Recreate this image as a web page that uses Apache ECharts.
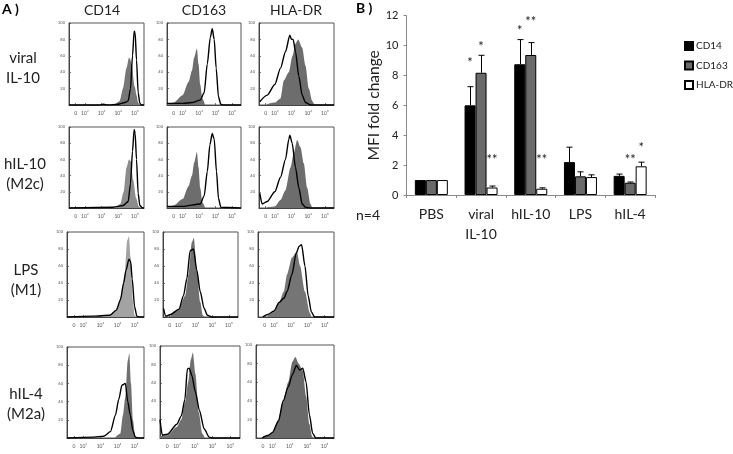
<!DOCTYPE html>
<html><head><meta charset="utf-8">
<style>html,body{margin:0;padding:0;background:#fff}#c{width:733px;height:454px;filter:blur(0.3px)}</style>
<script src="https://cdn.jsdelivr.net/npm/echarts@6/dist/echarts.min.js"></script>
</head><body><div id="c"></div>
<script>
// ---------- Panel B values ----------
const barCategories = ['PBS', 'viral\nIL-10', 'hIL-10', 'LPS', 'hIL-4'];
const cd14Values  = [1, 6.0, 8.75, 2.2, 1.28];
const cd163Values = [1, 8.18, 9.37, 1.25, 0.82];
const hladrValues = [1, 0.5, 0.42, 1.2, 1.92];
const cd14Upper   = [null, 7.25, 10.4, 3.2, 1.4];
const cd163Upper  = [null, 9.35, 10.2, 1.55, 0.87];
const hladrUpper  = [null, 0.6, 0.48, 1.35, 2.2];
// [category, series, height, mark]
const significance = [[1,0,8.97,'*'],[1,1,10.04,'*'],[1,2,2.52,'**'],[2,0,11.15,'*'],[2,1,11.7,'**'],[2,2,2.52,'**'],[4,1,2.52,'**'],[4,2,3.3,'*']];
const barTicks = [0,2,4,6,8,10,12];

// ---------- Panel A histograms: [log10 fluorescence, % of max] ----------
const xTickValues = [1.45, 2, 3, 4, 5];
const xTickLabels = ['0', '10²', '10³', '10⁴', '10⁵'];
const viralCD14Fill = [[3.79,0],[4.09,5],[4.29,20],[4.5,45],[4.65,58],[4.72,56],[4.8,50],[5,22],[5.1,12],[5.2,3],[5.3,0]];
const viralCD14Line = [[1.05,0],[2.9,0],[3.1,1],[3.4,0],[4,1],[4.4,3],[4.6,5],[4.74,20],[4.86,60],[4.96,90],[5.02,88],[5.1,55],[5.2,15],[5.3,2],[5.4,0],[5.55,0]];
const viralCD163Fill = [[1.05,0],[1.45,3],[2,12],[2.36,28],[2.57,42],[2.7,58],[2.87,69],[2.97,50],[3.07,25],[3.2,8],[3.37,0]];
const viralCD163Line = [[1.05,2],[2,2],[2.57,3],[3.07,6],[3.31,15],[3.5,50],[3.68,82],[3.8,93],[3.92,80],[4.04,45],[4.18,10],[4.32,1],[4.5,0],[5.55,0]];
const viralHLAFill = [[1.54,1],[2,3],[2.34,8],[2.54,30],[2.84,40],[3.06,60],[3.24,75],[3.4,80],[3.64,70],[3.84,48],[4.04,20],[4.24,5],[4.38,0]];
const viralHLALine = [[1.1,4],[1.54,12],[2,25],[2.34,45],[2.64,65],[2.9,85],[3.0,80],[3.1,80],[3.24,65],[3.44,35],[3.64,12],[3.84,3],[4.14,0],[5.55,0]];
const hIL10CD14Fill = [[3.89,1],[4.13,5],[4.33,20],[4.5,50],[4.65,60],[4.75,58],[4.9,35],[5.08,12],[5.24,2],[5.3,0]];
const hIL10CD14Line = [[1.05,0],[3.69,1],[4.3,3],[4.6,8],[4.74,30],[4.86,70],[4.96,97],[5.02,92],[5.1,60],[5.2,18],[5.3,3],[5.46,0],[5.55,0]];
const hIL10CD163Fill = [[1.05,0],[1.45,3],[2,11],[2.36,27],[2.57,40],[2.7,56],[2.87,69],[2.97,50],[3.07,25],[3.2,7],[3.37,0]];
const hIL10CD163Line = [[1.05,2],[2,2],[3.07,5],[3.31,15],[3.5,45],[3.66,78],[3.8,92],[3.92,85],[4.06,45],[4.18,12],[4.32,1],[5.55,0]];
const hIL10HLAFill = [[1.54,1],[2,2],[2.34,10],[2.64,22],[2.94,50],[3.14,68],[3.34,84],[3.54,75],[3.74,55],[3.94,25],[4.14,5],[4.24,0]];
const hIL10HLALine = [[1.1,18],[1.24,5],[1.54,8],[2,20],[2.34,38],[2.64,60],[2.84,85],[2.9,90],[3.04,80],[3.24,50],[3.44,25],[3.64,5],[3.84,1],[4.1,0],[5.55,0]];
const lpsCD14Fill = [[3.55,2],[3.93,7],[4.22,25],[4.42,50],[4.57,90],[4.67,95],[4.77,70],[4.9,20],[5,2],[5.06,0]];
const lpsCD14Line = [[1.05,0],[2.58,1],[3.55,2],[3.93,8],[4.17,20],[4.36,40],[4.5,55],[4.67,68],[4.77,65],[4.86,45],[5,12],[5.13,1],[5.3,0],[5.55,0]];
const lpsCD163Fill = [[1.5,2],[2,10],[2.38,25],[2.58,50],[2.78,88],[2.9,93],[3.08,55],[3.28,18],[3.44,2],[3.52,0]];
const lpsCD163Line = [[1.08,10],[1.22,1],[1.5,3],[2,9],[2.28,25],[2.48,45],[2.68,78],[2.88,80],[3.08,55],[3.28,30],[3.52,10],[3.72,2],[3.98,0],[5.55,0]];
const lpsHLAFill = [[1.62,2],[2,6],[2.29,17],[2.58,30],[2.77,50],[3.06,70],[3.35,77],[3.54,60],[3.83,30],[4.12,5],[4.21,0]];
const lpsHLALine = [[1.33,0],[1.62,3],[2,7],[2.29,17],[2.58,22],[2.77,30],[3.06,50],[3.31,75],[3.48,83],[3.63,85],[3.83,60],[4.02,25],[4.21,6],[4.4,0],[5.55,0]];
const il4CD14Fill = [[3.88,1],[4.17,5],[4.32,25],[4.46,45],[4.6,85],[4.69,93],[4.79,60],[4.9,20],[5.04,2],[5.14,0]];
const il4CD14Line = [[1.05,0],[2.62,1],[3.2,2],[3.59,7],[3.88,25],[4.07,42],[4.26,58],[4.46,60],[4.6,40],[4.75,25],[4.9,8],[5.04,1],[5.24,0],[5.55,0]];
const il4CD163Fill = [[1.05,2],[1.47,3],[2,12],[2.25,20],[2.45,38],[2.65,62],[2.78,85],[2.9,93],[3.04,70],[3.23,28],[3.43,5],[3.57,0]];
const il4CD163Line = [[1.05,20],[1.18,3],[1.47,4],[2,15],[2.25,24],[2.45,42],[2.59,75],[2.69,76],[2.84,68],[3.04,50],[3.27,30],[3.53,10],[3.82,1],[4.02,0],[5.55,0]];
const il4HLAFill = [[1.49,0],[1.77,3],[2,6],[2.34,20],[2.62,40],[2.91,60],[3.15,82],[3.32,87],[3.51,80],[3.75,72],[3.94,45],[4.13,15],[4.28,2],[4.36,0]];
const il4HLALine = [[1.4,0],[1.77,3],[2,6],[2.34,18],[2.62,40],[2.91,55],[3.15,68],[3.38,78],[3.57,73],[3.75,75],[3.94,60],[4.13,25],[4.32,5],[4.5,0],[5.55,0]];

const columnTitles = [['CD14',102],['CD163',204],['HLA-DR',296]];
const rowTitles = [['viral\nIL-10',23,68],['hIL-10\n(M2c)',25,174],['LPS\n(M1)',26,280],['hIL-4\n(M2a)',26,404]];

// panel geometry: left, top, right, bottom, fill colour, fill data, line data
const dark = '#6d6d6d';
const panels = [
 [69,23,144,105,'#777777',viralCD14Fill,viralCD14Line],
 [167,23,241,105,dark,viralCD163Fill,viralCD163Line],
 [259,23,334,105,dark,viralHLAFill,viralHLALine],
 [69,127,144,208,'#8c8c8c',hIL10CD14Fill,hIL10CD14Line],
 [167,127,241,208,dark,hIL10CD163Fill,hIL10CD163Line],
 [259,127,334,208,dark,hIL10HLAFill,hIL10HLALine],
 [67,232,144,317,'#a3a3a3',lpsCD14Fill,lpsCD14Line],
 [163,232,238,317,'#707070',lpsCD163Fill,lpsCD163Line],
 [258,232,334,317,'#757575',lpsHLAFill,lpsHLALine],
 [67,347,144,438,'#707070',il4CD14Fill,il4CD14Line],
 [160,346,240,438,'#707070',il4CD163Fill,il4CD163Line],
 [256,345,334,438,'#6a6a6a',il4HLAFill,il4HLALine]
];

const font = 'Lato, "Open Sans", sans-serif';
const grid = [], xAxis = [], yAxis = [], series = [];

panels.forEach((p, i) => {
  grid.push({left:p[0], top:p[1], width:p[2]-p[0], height:p[3]-p[1], show:true, borderColor:'#555', borderWidth:1, backgroundColor:'#fff'});
  xAxis.push({type:'value', gridIndex:i, min:1.05, max:5.55, splitLine:{show:false},
    axisLine:{lineStyle:{color:'#444'}},
    axisTick:{customValues:xTickValues, length:2, inside:true, lineStyle:{color:'#444',width:0.7}},
    axisLabel:{customValues:xTickValues, margin:6, fontSize:5, color:'#555', fontFamily:font,
      formatter:v=>{const k=xTickValues.indexOf(v);return k>=0?xTickLabels[k]:'';}}});
  yAxis.push({type:'value', gridIndex:i, min:0, max:100, interval:20, splitLine:{show:false},
    axisLine:{show:true,lineStyle:{color:'#444'}},
    axisTick:{length:2, inside:true, lineStyle:{color:'#444',width:0.7}},
    axisLabel:{margin:4, fontSize:4, color:'#555', fontFamily:font, formatter:v=>v===0?'':String(v)}});
  series.push({type:'line', xAxisIndex:i, yAxisIndex:i, data:p[5], symbol:'none', silent:true, z:2,
    smooth:0.25, smoothMonotone:'x', lineStyle:{width:0}, areaStyle:{color:p[4], opacity:1}, animation:false});
  series.push({type:'line', xAxisIndex:i, yAxisIndex:i, data:p[6], symbol:'none', silent:true, z:3,
    smooth:0.25, smoothMonotone:'x', lineStyle:{color:'#000', width:1.4}, animation:false});
});

const b = panels.length;
grid.push({left:406.5, top:15.7, width:248.5, height:179.3});
xAxis.push({type:'category', gridIndex:b, data:barCategories,
  axisLine:{lineStyle:{color:'#8a8a8a'}}, axisTick:{show:true,inside:false,length:3,alignWithLabel:false,lineStyle:{color:'#8a8a8a'}},
  axisLabel:{margin:9, fontSize:14, lineHeight:20, color:'#222', fontFamily:font, interval:0}});
yAxis.push({type:'value', gridIndex:b, min:0, max:12, interval:2, splitLine:{show:false},
  axisLine:{show:true,lineStyle:{color:'#8a8a8a'}}, axisTick:{show:true,length:3,lineStyle:{color:'#8a8a8a'}},
  axisLabel:{margin:8, fontSize:11, color:'#222', fontFamily:font,
    customValues:barTicks, formatter:v=>String(v)},
  name:'MFI fold change', nameLocation:'middle', nameGap:25, nameRotate:90,
  nameTextStyle:{fontSize:15.5, color:'#222', fontFamily:font}});

const barW = 11;
const barStyles = [['CD14','#000000',cd14Values,cd14Upper],['CD163','#6a6a6a',cd163Values,cd163Upper],['HLA-DR','#ffffff',hladrValues,hladrUpper]];
barStyles.forEach((s) => {
  series.push({type:'bar', name:s[0], xAxisIndex:b, yAxisIndex:b, data:s[2], barWidth:barW, barGap:'0%', z:3, animation:false,
    itemStyle:{color:s[1], borderColor:'#000', borderWidth:1}});
});
const errData = [];
barStyles.forEach((s, k) => s[3].forEach((u, c) => { if (u !== null) errData.push([c, s[2][c], u, k]); }));
series.push({type:'custom', xAxisIndex:b, yAxisIndex:b, data:errData, z:2, animation:false, silent:true,
  encode:{x:0,y:[1,2]},
  renderItem:(params, api) => {
    const dx = (api.value(3)-1)*barW;
    const lo = api.coord([api.value(0), api.value(1)]);
    const hi = api.coord([api.value(0), api.value(2)]);
    const x = Math.round(lo[0]+dx)+0.5;
    const st = {stroke:'#000', lineWidth:1, fill:'none'};
    return {type:'group', children:[
      {type:'line', shape:{x1:x,y1:lo[1],x2:x,y2:hi[1]}, style:st},
      {type:'line', shape:{x1:x-3,y1:hi[1],x2:x+3,y2:hi[1]}, style:st}
    ]};
  }});
series.push({type:'custom', xAxisIndex:b, yAxisIndex:b, data:significance, z:4, animation:false, silent:true,
  encode:{x:0,y:2},
  renderItem:(params, api) => {
    const dx = (api.value(1)-1)*barW;
    const c = api.coord([api.value(0), api.value(2)]);
    return {type:'text', style:{x:c[0]+dx, y:c[1]+2, text:significance[params.dataIndex][3], fill:'#222', fontSize:13, fontFamily:font, textAlign:'center', textVerticalAlign:'middle'}};
  }});

const txt = (t,x,y,fs,extra) => ({type:'text', x, y, z:10, style:Object.assign({text:t, fontSize:fs, fontFamily:font, fill:'#222', textAlign:'center', textVerticalAlign:'middle', lineHeight:fs+5}, extra||{})});
const graphic = [
  txt('A )',2,9,14,{textAlign:'left',fontWeight:'bold',fill:'#000'}),
  txt('B )',356,8,14,{textAlign:'left',fontWeight:'bold',fill:'#000'}),
  txt('n=4',356,215,14,{textAlign:'left'})
];
columnTitles.forEach(c => graphic.push(txt(c[0],c[1],10,14)));
rowTitles.forEach(r => graphic.push(txt(r[0],r[1],r[2],15,{lineHeight:20})));

const chart = echarts.init(document.getElementById('c'), null, {renderer:'canvas'});
chart.setOption({
  backgroundColor:'#fff', animation:false, tooltip:{show:false},
  legend:{data:['CD14','CD163','HLA-DR'], orient:'vertical', left:679, top:36, itemWidth:8, itemHeight:8, itemGap:9.5,
    icon:'rect', selectedMode:false, textStyle:{fontSize:10, color:'#222', fontFamily:font, padding:[0,0,0,-2]}},
  grid, xAxis, yAxis, series, graphic:{elements:graphic}
});
</script></body></html>
